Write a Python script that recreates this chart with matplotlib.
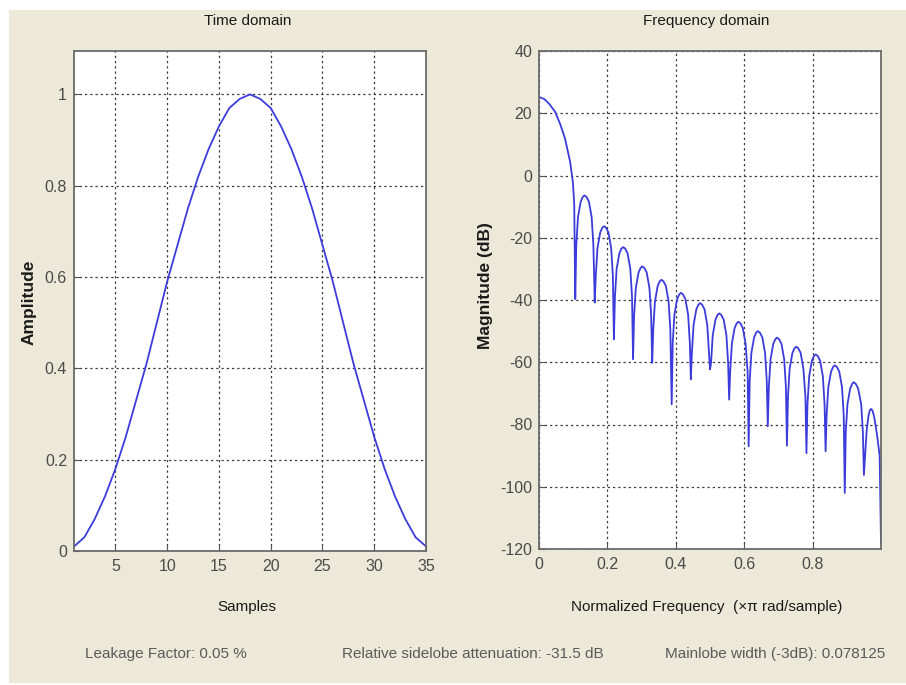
import matplotlib
matplotlib.use("Agg")
import matplotlib.pyplot as plt
from matplotlib import font_manager
from matplotlib.patches import Rectangle

# window samples (time domain)
samples = list(range(1, 36))
amplitude = [0.01, 0.03, 0.07, 0.12, 0.18, 0.25, 0.33, 0.41, 0.50, 0.59,
             0.67, 0.75, 0.82, 0.88, 0.93, 0.97, 0.99, 1.00, 0.99, 0.97,
             0.93, 0.88, 0.82, 0.75, 0.67, 0.59, 0.50, 0.41, 0.33, 0.25,
             0.18, 0.12, 0.07, 0.03, 0.01]

# magnitude response, one row per lobe (null first)
freq = [
    0.000, 0.015, 0.030, 0.047, 0.062, 0.076, 0.091, 0.099, 0.103,
    0.106, 0.109, 0.114, 0.122, 0.128, 0.133, 0.139, 0.146, 0.154, 0.159,
    0.163, 0.166, 0.171, 0.179, 0.185, 0.190, 0.196, 0.203, 0.211, 0.216,
    0.219, 0.222, 0.227, 0.235, 0.241, 0.246, 0.252, 0.259, 0.267, 0.272,
    0.275, 0.278, 0.283, 0.291, 0.297, 0.302, 0.308, 0.315, 0.323, 0.328,
    0.331, 0.334, 0.339, 0.347, 0.353, 0.358, 0.364, 0.371, 0.379, 0.384,
    0.388, 0.391, 0.396, 0.404, 0.410, 0.415, 0.421, 0.428, 0.436, 0.441,
    0.444, 0.447, 0.452, 0.460, 0.466, 0.471, 0.477, 0.484, 0.492, 0.497,
    0.500, 0.503, 0.508, 0.516, 0.522, 0.527, 0.533, 0.540, 0.548, 0.553,
    0.556, 0.559, 0.564, 0.572, 0.578, 0.583, 0.589, 0.596, 0.604, 0.610,
    0.613, 0.616, 0.621, 0.629, 0.635, 0.640, 0.646, 0.653, 0.661, 0.666,
    0.669, 0.672, 0.677, 0.685, 0.691, 0.696, 0.702, 0.709, 0.717, 0.722,
    0.725, 0.728, 0.733, 0.741, 0.747, 0.752, 0.758, 0.765, 0.773, 0.779,
    0.782, 0.785, 0.790, 0.798, 0.804, 0.809, 0.815, 0.822, 0.830, 0.835,
    0.838, 0.841, 0.846, 0.854, 0.860, 0.865, 0.871, 0.878, 0.886, 0.891,
    0.894, 0.897, 0.902, 0.910, 0.916, 0.920, 0.926, 0.933, 0.942, 0.947,
    0.950, 0.953, 0.958, 0.963, 0.967, 0.971, 0.975, 0.980, 0.988, 0.996,
    1.000]
mag_db = [
    25.2, 24.6, 23.0, 20.5, 16.5, 11.9, 4.4, -2.1, -9.0,
    -39.7, -22.4, -13.4, -8.4, -6.9, -6.4, -6.9, -8.4, -13.4, -22.4,
    -40.8, -32.3, -23.3, -18.3, -16.8, -16.3, -16.8, -18.3, -23.3, -32.3,
    -52.6, -39.0, -30.0, -25.0, -23.5, -23.0, -23.5, -25.0, -30.0, -39.0,
    -59.0, -45.2, -36.2, -31.2, -29.7, -29.2, -29.7, -31.2, -36.2, -45.2,
    -60.2, -49.5, -40.5, -35.5, -34.0, -33.5, -34.0, -35.5, -40.5, -49.5,
    -73.5, -53.7, -44.7, -39.7, -38.2, -37.7, -38.2, -39.7, -44.7, -53.7,
    -65.5, -57.0, -48.0, -43.0, -41.5, -41.0, -41.5, -43.0, -48.0, -57.0,
    -62.3, -60.3, -51.3, -46.3, -44.8, -44.3, -44.8, -46.3, -51.3, -60.3,
    -72.0, -63.0, -54.0, -49.0, -47.5, -47.0, -47.5, -49.0, -54.0, -63.0,
    -87.0, -66.0, -57.0, -52.0, -50.5, -50.0, -50.5, -52.0, -57.0, -66.0,
    -80.6, -68.1, -59.1, -54.1, -52.6, -52.1, -52.6, -54.1, -59.1, -68.1,
    -86.8, -71.0, -62.0, -57.0, -55.5, -55.0, -55.5, -57.0, -62.0, -71.0,
    -89.2, -73.5, -64.5, -59.5, -58.0, -57.5, -58.0, -59.5, -64.5, -73.5,
    -88.6, -77.0, -68.0, -63.0, -61.5, -61.0, -61.5, -63.0, -68.0, -77.0,
    -102.0, -82.4, -73.4, -68.4, -66.9, -66.4, -66.9, -68.4, -73.4, -82.4,
    -96.2, -91.0, -82.0, -77.5, -75.5, -75.0, -75.5, -77.5, -83.0, -90.0,
    -118.0]

time_yticks = [0, 0.2, 0.4, 0.6, 0.8, 1]
time_ylabels = ["0", "0.2", "0.4", "0.6", "0.8", "1"]
time_xticks = [5, 10, 15, 20, 25, 30, 35]
freq_xticks = [0, 0.2, 0.4, 0.6, 0.8]
freq_xlabels = ["0", "0.2", "0.4", "0.6", "0.8"]
freq_yticks = [-120, -100, -80, -60, -40, -20, 0, 20, 40]

info_texts = ["Leakage Factor: 0.05 %",
              "Relative sidelobe attenuation: -31.5 dB",
              "Mainlobe width (-3dB): 0.078125"]

plt.rcParams['axes.unicode_minus'] = False

# the screenshot is squeezed sideways, so a narrow face fits horizontal text
names = {f.name for f in font_manager.fontManager.ttflist}
if 'Liberation Sans Narrow' in names:
    hfont, hsize = 'Liberation Sans Narrow', 12.5
else:
    hfont, hsize = 'Liberation Sans', 11
vfont = 'Liberation Sans'

W, H = 906, 685
bg = '#ECE9D8'
line_col = '#3c3cdc'
grid_kw = dict(color='#3a3a3a', linestyle=(0, (1.8, 2.4)), linewidth=0.9)

fig = plt.figure(figsize=(W / 100, H / 100), dpi=100, facecolor='white')
fig.patches.append(Rectangle((9 / W, 2 / H), 1 - 9 / W, 1 - 12 / H,
                             transform=fig.transFigure, facecolor=bg,
                             edgecolor='none', zorder=-10))


def px_axes(x0, y0, x1, y1):
    return fig.add_axes([x0 / W, 1 - y1 / H, (x1 - x0) / W, (y1 - y0) / H])


def style(ax):
    ax.set_facecolor('white')
    for s in ax.spines.values():
        s.set_color('#6a6a6a')
        s.set_linewidth(1.3)
    ax.tick_params(direction='in', length=4, width=0.8, color='#555555',
                   labelcolor='#4a4a4a', pad=6)
    ax.tick_params(axis='y', pad=5)
    for lab in ax.get_xticklabels() + ax.get_yticklabels():
        lab.set_fontfamily(hfont)
        lab.set_fontsize(hsize + 0.5)
    ax.grid(True, **grid_kw)
    ax.set_axisbelow(True)


ax1 = px_axes(74, 51, 426, 551)
ax1.plot(samples, amplitude, color=line_col, linewidth=1.3)
ax1.set_xlim(1, 35)
ax1.set_ylim(0, 1.095)
ax1.set_xticks(time_xticks)
ax1.set_yticks(time_yticks)
ax1.set_yticklabels(time_ylabels)
style(ax1)

ax2 = px_axes(539, 51, 881, 549)
ax2.plot(freq, mag_db, color=line_col, linewidth=1.3)
ax2.set_xlim(0, 1)
ax2.set_ylim(-120, 40)
ax2.set_xticks(freq_xticks)
ax2.set_xticklabels(freq_xlabels)
ax2.set_yticks(freq_yticks)
style(ax2)


def ftext(x, y, s, **kw):
    fig.text(x / W, 1 - y / H, s, **kw)


hkw = dict(family=hfont, size=hsize, va='center')
ftext(248, 21, "Time domain", ha='center', color='#1a1a1a', **hkw)
ftext(706, 21, "Frequency domain", ha='center', color='#1a1a1a', **hkw)
ftext(247, 607, "Samples", ha='center', color='#1a1a1a', **hkw)
ftext(707, 607, "Normalized Frequency  (\u00d7\u03c0 rad/sample)", ha='center',
      color='#1a1a1a', **hkw)

vkw = dict(family=vfont, size=12.5, weight='bold', rotation=90,
           ha='center', va='center', color='#1a1a1a')
ftext(29, 302, "Amplitude", **vkw)
ftext(486, 286, "Magnitude (dB)", **vkw)

for x, s in zip([85, 342, 665], info_texts):
    ftext(x, 654, s, ha='left', color='#5a5a5a', **hkw)

fig.savefig("out.png", dpi=100, facecolor=fig.get_facecolor())
